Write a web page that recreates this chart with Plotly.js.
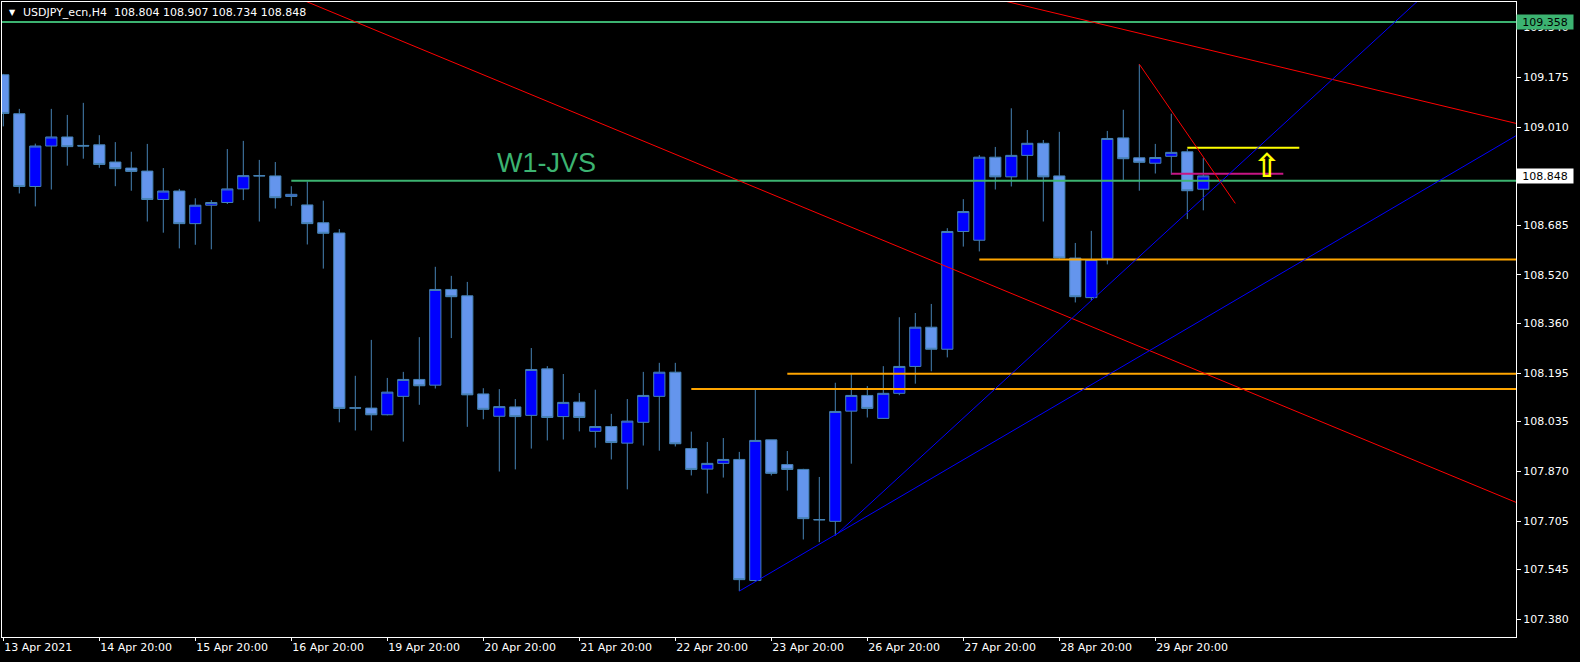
<!DOCTYPE html>
<html>
<head>
<meta charset="utf-8">
<script src="https://cdn.plot.ly/plotly-3.0.1.min.js"></script>
<style>
  html, body { margin:0; padding:0; background:#000; }
  #chart { width:1580px; height:662px; }
</style>
</head>
<body>
<div id="chart"></div>
<script>
// ---- Data (USDJPY_ecn, H4) ----
const barIndex = [];
for (let i = 0; i < 76; i++) barIndex.push(i);

const openP = [109.183,109.054,108.813,108.947,108.977,108.949,108.951,108.894,108.874,108.864,
               108.770,108.798,108.690,108.751,108.760,108.805,108.849,108.848,108.780,108.752,
               108.693,108.659,108.080,108.079,108.057,108.118,108.174,108.155,108.472,108.451,
               108.126,108.052,108.083,108.055,108.209,108.051,108.099,108.002,108.018,107.963,
               108.032,108.118,108.198,107.945,107.877,107.896,107.909,107.508,107.974,107.892,
               107.876,107.710,107.704,108.069,108.121,108.045,108.128,108.217,108.347,108.274,
               108.664,108.635,108.910,108.845,108.916,108.956,108.848,108.576,108.445,108.575,
               108.974,108.908,108.890,108.913,108.928,108.804];
const highP = [109.186,109.070,108.955,109.070,109.050,109.090,108.983,108.960,108.928,108.954,
               108.874,108.805,108.774,108.768,108.937,108.964,108.901,108.894,108.814,108.830,
               108.766,108.672,108.186,108.305,108.179,108.199,108.314,108.547,108.517,108.497,
               108.145,108.142,108.109,108.278,108.218,108.192,108.129,108.140,108.060,108.109,
               108.199,108.229,108.229,108.001,107.967,107.980,107.934,108.142,107.974,107.937,
               107.878,107.851,108.163,108.192,108.152,108.218,108.380,108.394,108.424,108.675,
               108.771,108.917,108.944,109.072,109.000,108.967,108.994,108.626,108.666,108.997,
               109.067,109.218,108.954,109.054,108.937,108.907];
const lowP  = [109.012,108.790,108.747,108.803,108.882,108.905,108.875,108.814,108.799,108.697,
               108.660,108.608,108.620,108.605,108.755,108.768,108.697,108.740,108.749,108.621,
               108.541,108.032,108.005,108.005,108.055,107.968,108.090,108.144,108.311,108.017,
               108.042,107.869,107.876,107.945,107.972,107.975,108.002,107.948,107.909,107.810,
               107.955,107.938,107.952,107.856,107.796,107.849,107.473,107.504,107.856,107.806,
               107.644,107.635,107.657,107.895,108.048,108.044,108.122,108.160,108.201,108.247,
               108.614,108.598,108.803,108.813,108.831,108.697,108.571,108.429,108.436,108.555,
               108.831,108.799,108.856,108.852,108.705,108.734];
const closeP= [109.055,108.813,108.947,108.977,108.945,108.947,108.886,108.872,108.863,108.770,
               108.798,108.690,108.751,108.760,108.805,108.849,108.848,108.776,108.787,108.690,
               108.658,108.078,108.079,108.057,108.132,108.174,108.153,108.472,108.448,108.123,
               108.075,108.084,108.051,108.207,108.048,108.098,108.048,108.018,107.965,108.036,
               108.121,108.198,107.961,107.876,107.896,107.909,107.511,107.972,107.863,107.876,
               107.713,107.709,108.068,108.121,108.078,108.128,108.217,108.347,108.274,108.664,
               108.730,108.910,108.845,108.916,108.956,108.845,108.576,108.448,108.571,108.972,
               108.905,108.893,108.909,108.926,108.799,108.848];

const xTickIdx    = [0, 6, 12, 18, 24, 30, 36, 42, 48, 54, 60, 66, 72];
const xTickLabels = ['13 Apr 2021','14 Apr 20:00','15 Apr 20:00','16 Apr 20:00','19 Apr 20:00',
                     '20 Apr 20:00','21 Apr 20:00','22 Apr 20:00','23 Apr 20:00','26 Apr 20:00',
                     '27 Apr 20:00','28 Apr 20:00','29 Apr 20:00'];
const yTickVals   = [109.340,109.175,109.010,108.685,108.520,108.360,108.195,108.035,107.870,107.705,107.545,107.380];

const titleText = 'USDJPY_ecn,H4\u00a0\u00a0108.804 108.907 108.734 108.848';

// Drawn objects (bar index / price)
const hLevels     = [109.358, 108.832, 108.142, 108.193, 108.571, 108.941, 108.855];
const hStartIdx   = [-2,      18,      43,      49,      61,      74,      73];
const hEndIdx     = [96,      96,      96,      96,      96,      81,      80];
const hColors     = ['#3CB371','#3CB371','#FFA500','#FFA500','#FFA500','#FFFF00','#C71585'];

const trendX0 = [15,      60,      71.0,    46,      52];
const trendY0 = [109.512, 109.460, 109.218, 107.473, 107.657];
const trendX1 = [94.54,   94.54,   77.0,    94.54,   90];
const trendY1 = [107.767, 109.022, 108.757, 108.981, 109.505];
const trendColors = ['#FF0000','#FF0000','#FF0000','#0000FF','#0000FF'];

const textLabel = {text:'W1-JVS', idx:30.7, price:108.891};
const arrowMark = {idx:79.0, price:108.884};
const priceTags = [{price:109.358, bg:'#3CB371'}, {price:108.848, bg:'#FFFFFF'}];

// ---- Chart ----
const FONT = 'DejaVu Sans, Verdana, sans-serif';

const trace = {
  type:'candlestick',
  x: barIndex, open: openP, high: highP, low: lowP, close: closeP,
  increasing: {fillcolor:'#0000FF', line:{color:'#4682B4', width:1}},
  decreasing: {fillcolor:'#6495ED', line:{color:'#4682B4', width:1}},
  whiskerwidth: 0,
  hoverinfo:'skip'
};

const shapes = [];
hLevels.forEach((p, i) => {
  shapes.push({type:'line', xref:'x', yref:'y', x0:hStartIdx[i], x1:hEndIdx[i], y0:p, y1:p,
               line:{color:hColors[i], width:2}, layer:'above'});
});
trendX0.forEach((x0, i) => {
  shapes.push({type:'line', xref:'x', yref:'y', x0:x0, y0:trendY0[i], x1:trendX1[i], y1:trendY1[i],
               line:{color:trendColors[i], width:1}, layer:'above'});
});

const annotations = [
  {xref:'paper', yref:'paper', x:0.0035, y:0.9835, xanchor:'left', yanchor:'middle', text:'▼',
   showarrow:false, font:{family:FONT, size:8, color:'#fff'}},
  {xref:'paper', yref:'paper', x:0.0125, y:0.983, xanchor:'left', yanchor:'middle', text:titleText,
   showarrow:false, font:{family:FONT, size:11, color:'#fff'}},
  {xref:'x', yref:'y', x:textLabel.idx, y:textLabel.price, xanchor:'left', yanchor:'middle',
   text:textLabel.text, showarrow:false, font:{family:'Liberation Sans, Arial, sans-serif', size:27, color:'#3CB371'}},
  {xref:'x', yref:'y', x:arrowMark.idx, y:arrowMark.price, xanchor:'center', yanchor:'middle',
   text:'<b>⇧</b>', showarrow:false, font:{family:FONT, size:33, color:'#FFFF00'}}
];
priceTags.forEach(t => {
  annotations.push({xref:'paper', yref:'y', x:1, y:t.price, xanchor:'left', yanchor:'middle',
    text:t.price.toFixed(3), showarrow:false, bgcolor:t.bg, width:54, height:12, align:'center',
    borderpad:1, font:{family:FONT, size:11, color:'#000'}});
});

const layout = {
  width:1580, height:662,
  paper_bgcolor:'#000', plot_bgcolor:'#000',
  margin:{l:2, r:64, t:2, b:25},
  showlegend:false,
  boxgap:0.3, boxgroupgap:0,
  xaxis:{range:[-0.081, 94.544], showgrid:false, zeroline:false, showline:true, mirror:true,
         linecolor:'#fff', linewidth:1, ticks:'outside', ticklen:3, tickcolor:'#fff',
         tickvals:xTickIdx, ticktext:xTickLabels, ticklabelposition:'outside right',
         tickfont:{family:FONT, size:11, color:'#fff'}, rangeslider:{visible:false}, fixedrange:true},
  yaxis:{range:[107.321, 109.424], side:'right', showgrid:false, zeroline:false, showline:true, mirror:true,
         linecolor:'#fff', linewidth:1, ticks:'outside', ticklen:4, tickcolor:'#fff',
         tickvals:yTickVals, ticktext:yTickVals.map(v => v.toFixed(3)),
         tickfont:{family:FONT, size:11, color:'#fff'}, fixedrange:true},
  shapes: shapes,
  annotations: annotations
};

Plotly.newPlot('chart', [trace], layout, {staticPlot:true, displayModeBar:false});
</script>
</body>
</html>
